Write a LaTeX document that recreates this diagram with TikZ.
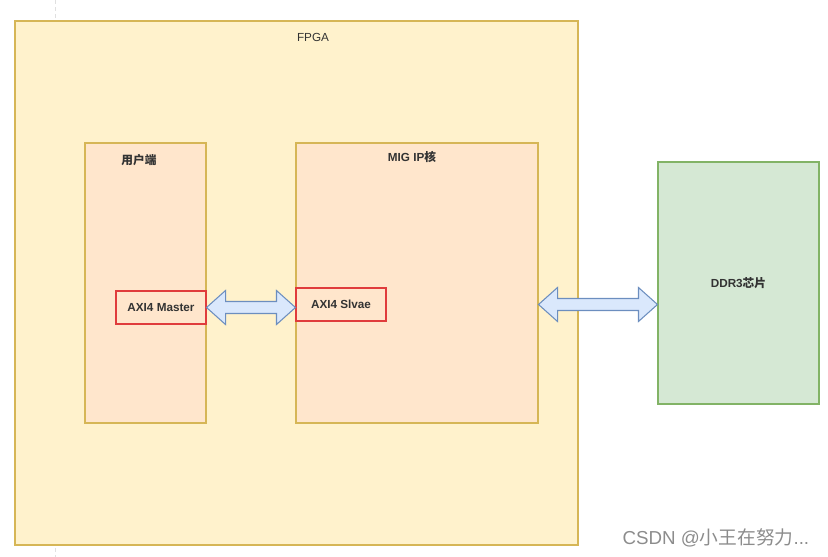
\documentclass[tikz,border=0pt]{standalone}
\usepackage{fontspec}
\setmainfont{Liberation Sans}
\newfontfamily\cjk{Noto Sans CJK SC}
\usetikzlibrary{calc}
\definecolor{fpgafill}{HTML}{FFF2CC}
\definecolor{fpgastroke}{HTML}{D6B656}
\definecolor{blockfill}{HTML}{FFE6CC}
\definecolor{redstroke}{HTML}{E03C3C}
\definecolor{arrfill}{HTML}{DAE8FC}
\definecolor{arrstroke}{HTML}{6C8EBF}
\definecolor{ddrfill}{HTML}{D5E8D4}
\definecolor{ddrstroke}{HTML}{82B366}
\definecolor{txt}{HTML}{333333}
\newcommand{\fatarrow}[2]{%
  \draw[fatarr] (#1) -- ($(#1)+(0.57,0.51)$) -- ($(#1)+(0.57,0.18)$) -- ($(#2)+(-0.57,0.18)$)
    -- ($(#2)+(-0.57,0.51)$) -- (#2) -- ($(#2)+(-0.57,-0.51)$) -- ($(#2)+(-0.57,-0.18)$)
    -- ($(#1)+(0.57,-0.18)$) -- ($(#1)+(0.57,-0.51)$) -- cycle;}

\begin{document}
\begin{tikzpicture}[
    every node/.style={font=\fontsize{10}{12}\selectfont, text=txt},
    outer/.style={rectangle, draw=fpgastroke, fill=fpgafill, line width=0.9pt},
    block/.style={rectangle, draw=fpgastroke, fill=blockfill, line width=0.9pt},
    port/.style={rectangle, draw=redstroke, fill=blockfill, line width=0.9pt, minimum width=2.7cm, minimum height=0.99cm, font=\fontsize{10}{12}\selectfont\bfseries},
    chip/.style={rectangle, draw=ddrstroke, fill=ddrfill, line width=0.9pt, font=\fontsize{10}{12}\selectfont\bfseries},
    lbl/.style={font=\fontsize{10}{12}\selectfont\bfseries},
    fatarr/.style={draw=arrstroke, fill=arrfill, line width=0.9pt, line join=miter},
    guide/.style={draw=black!12, dashed, line width=0.6pt},
    wmark/.style={font=\fontsize{16}{18}\selectfont, text=black!45}
]
\useasboundingbox (0,0) rectangle (24.84,-16.71);
\draw[guide] (1.65,0) -- (1.65,-16.71);

\node[outer, minimum width=16.89cm, minimum height=15.72cm] (fpga) at (8.895,-8.49) {};
\node (fpgalbl) at (9.39,-1.11) {FPGA};

\node[block, minimum width=3.63cm, minimum height=8.4cm] (user) at (4.365,-8.49) {};
\node[lbl] (userlbl) at (4.17,-4.8) {\cjk 用户端};
\node[block, minimum width=7.26cm, minimum height=8.4cm] (mig) at (12.51,-8.49) {};
\node[lbl] (miglbl) at (12.36,-4.71) {MIG IP{\cjk 核}};

\node[port] (master) at (4.83,-9.225) {AXI4 Master};
\node[port] (slave) at (10.23,-9.135) {AXI4 Slvae};

\node[chip, minimum width=4.83cm, minimum height=7.26cm] (ddr) at (22.155,-8.49) {DDR3{\cjk 芯片}};

\coordinate (a1) at (master.east -| mig.west);
\coordinate (a2s) at (slave.west -| mig.east);
\coordinate (a2e) at (slave.west -| ddr.west);
\fatarrow{master.east}{a1}
\fatarrow{a2s}{a2e}

\node[wmark, anchor=east] (csdn) at (24.4,-16.14) {CSDN @{\cjk 小王在努力}...};
\end{tikzpicture}
\end{document}
